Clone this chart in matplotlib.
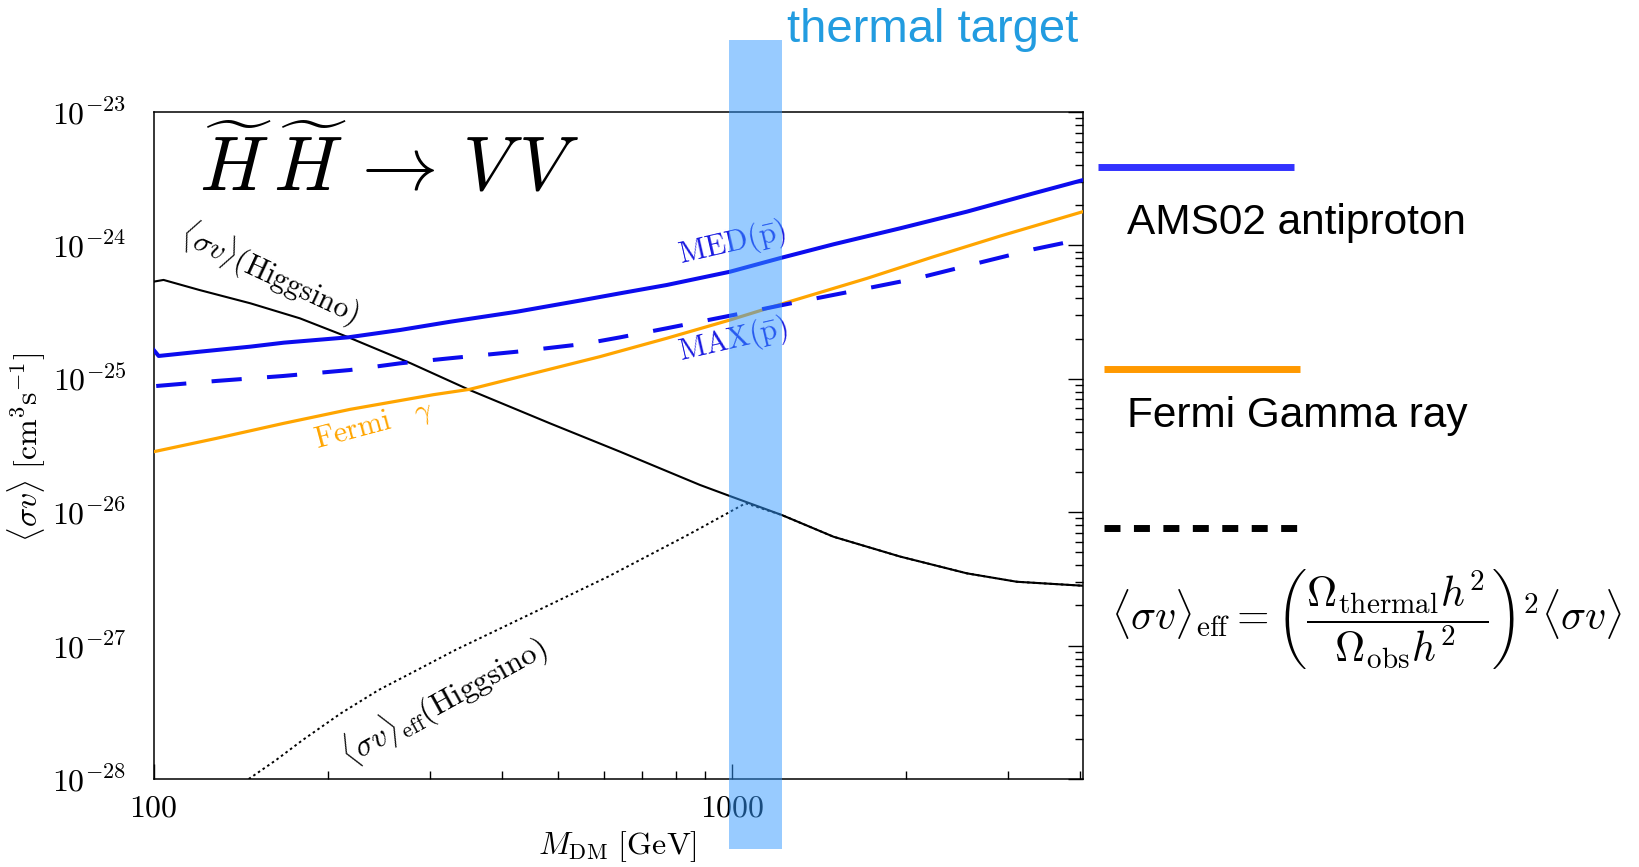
import numpy as np
import matplotlib
matplotlib.use('Agg')
import matplotlib.pyplot as plt
from matplotlib.lines import Line2D
from matplotlib.patches import Rectangle
import matplotlib.transforms as mtransforms
from matplotlib.ticker import FixedLocator, FixedFormatter, LogLocator, NullFormatter

# ---------------- data ----------------
higgsino_M = [100, 104, 120, 147, 179, 217, 278, 352, 485, 641, 881, 993, 1220, 1499, 1955, 2551, 3112, 4050]
higgsino_sv = [5.35e-25, 5.51e-25, 4.63e-25, 3.68e-25, 2.84e-25, 2.05e-25, 1.31e-25, 8.24e-26, 4.63e-26,
               2.84e-26, 1.60e-26, 1.32e-26, 9.53e-27, 6.55e-27, 4.65e-27, 3.48e-27, 3.01e-27, 2.81e-27]

eff_M = [146, 162.8, 181, 210.7, 245, 285.5, 332.5, 451, 611, 828, 881, 1056, 1220, 1499, 1955, 2551, 3112, 4050]
eff_sv = [1.0e-28, 1.387e-28, 1.959e-28, 3.105e-28, 4.65e-28, 6.56e-28, 9.27e-28, 1.746e-27, 3.29e-27,
          6.55e-27, 7.57e-27, 1.167e-26, 9.53e-27, 6.55e-27, 4.65e-27, 3.48e-27, 3.01e-27, 2.81e-27]

med_M = [100, 102, 120, 147, 168, 217, 267, 326, 425, 554, 641, 772, 993, 1220, 1499, 1955, 2551, 3325, 4050]
med_sv = [1.644e-25, 1.483e-25, 1.596e-25, 1.742e-25, 1.866e-25, 2.046e-25, 2.323e-25, 2.679e-25, 3.184e-25,
          3.90e-25, 4.375e-25, 5.05e-25, 6.35e-25, 8.09e-25, 1.019e-24, 1.343e-24, 1.791e-24, 2.455e-24, 3.09e-24]

max_M = [101, 128.5, 167.6, 218.6, 266.7, 325.6, 424.6, 553.6, 641, 772, 993, 1279, 1602, 2089, 2725, 3325, 3848]
max_sv = [8.83e-26, 9.64e-26, 1.050e-25, 1.164e-25, 1.306e-25, 1.426e-25, 1.596e-25, 1.824e-25, 2.046e-25,
          2.393e-25, 2.972e-25, 3.715e-25, 4.50e-25, 5.66e-25, 7.55e-25, 9.35e-25, 1.067e-24]

fermi_M = [100, 128.5, 167.6, 218.6, 304.6, 352, 453.7, 591.6, 772, 993, 1220, 1713, 2233, 2912, 4050]
fermi_sv = [2.84e-26, 3.58e-26, 4.63e-26, 5.90e-26, 7.6e-26, 8.34e-26, 1.099e-25, 1.466e-25, 2.014e-25,
            2.761e-25, 3.64e-25, 5.66e-25, 8.22e-25, 1.175e-24, 1.791e-24]

thermal_band = (990, 1222)

x_ticks = [100, 1000]
x_ticklabels = [r'$100$', r'$1000$']
y_ticks = [1e-28, 1e-27, 1e-26, 1e-25, 1e-24, 1e-23]
y_ticklabels = [r'$10^{-28}$', r'$10^{-27}$', r'$10^{-26}$', r'$10^{-25}$', r'$10^{-24}$', r'$10^{-23}$']

legend_labels = ['AMS02 antiproton', 'Fermi Gamma ray']

# ---------------- figure ----------------
plt.rcParams['mathtext.fontset'] = 'cm'
W, H = 1639, 867
fig = plt.figure(figsize=(W / 100, H / 100), dpi=100)

def fx(px):
    return px / W

def fy(py):
    return 1 - py / H

ax = fig.add_axes([fx(153.7), fy(779), (1083 - 153.7) / W, (779 - 112) / H])
ax.set_xscale('log')
ax.set_yscale('log')
ax.set_xlim(100, 4050)
ax.set_ylim(1e-28, 1e-23)

blue = '#0c0cee'
orange = '#ffa500'

ax.plot(higgsino_M, higgsino_sv, color='black', lw=1.5, zorder=3, solid_joinstyle='round')
ax.plot(eff_M, eff_sv, color='black', lw=1.4, linestyle=(0, (1.3, 1.6)), zorder=3)
ax.plot(med_M, med_sv, color=blue, lw=2.9, zorder=4, solid_joinstyle='round')
ax.plot(max_M, max_sv, color=blue, lw=2.9, zorder=4, dashes=(7.5, 6.3))
ax.plot(fermi_M, fermi_sv, color=orange, lw=2.3, zorder=3, solid_joinstyle='round')

# thermal band (extends outside the axes)
trans = mtransforms.blended_transform_factory(ax.transData, fig.transFigure)
band = Rectangle((thermal_band[0], fy(849)), thermal_band[1] - thermal_band[0], fy(40) - fy(849),
                 transform=trans, facecolor='#3399ff', alpha=0.5, edgecolor='none',
                 clip_on=False, zorder=6)
ax.add_patch(band)
fig.text(fx(786.7), fy(41.7), 'thermal target', fontsize=34, color='#229ce0',
         family='Liberation Sans', ha='left', va='baseline')

# ticks
ax.xaxis.set_major_locator(FixedLocator(x_ticks))
ax.xaxis.set_major_formatter(FixedFormatter(x_ticklabels))
ax.xaxis.set_minor_locator(LogLocator(base=10, subs=np.arange(2, 10), numticks=20))
ax.xaxis.set_minor_formatter(NullFormatter())
ax.yaxis.set_major_locator(FixedLocator(y_ticks))
ax.yaxis.set_major_formatter(FixedFormatter(y_ticklabels))
ax.yaxis.set_minor_locator(LogLocator(base=10, subs=np.arange(2, 10), numticks=20))
ax.yaxis.set_minor_formatter(NullFormatter())
ax.tick_params(which='both', direction='in', top=False, left=False, right=True, bottom=True,
               width=1.0, labelsize=23)
ax.tick_params(which='major', length=11)
ax.tick_params(which='minor', length=6)
ax.tick_params(axis='y', pad=19.5)
ax.tick_params(axis='x', pad=10)
for s in ax.spines.values():
    s.set_linewidth(1.1)

# axis labels
fig.text(fx(617), fy(847), r'$M_{\rm DM}\ [\rm GeV]$', fontsize=23, ha='center', va='center')
fig.text(fx(27), fy(447), r'$\langle\sigma v\rangle\ [\rm cm^3 s^{-1}]$', fontsize=23,
         ha='center', va='center', rotation=90)

# title
fig.text(fx(199), fy(190), r'$\widetilde{H}\,\widetilde{H}\,\rightarrow\,V\,V$', fontsize=55,
         ha='left', va='baseline')

# curve labels
ax.text(158.9, 6.2e-25, r'$\langle\sigma v\rangle(\rm Higgsino)$', fontsize=21.5, rotation=-25,
        rotation_mode='anchor', ha='center', va='center', zorder=5)
ax.text(1002, 1.04e-24, r'$\rm MED(\bar{p})$', fontsize=21.5, rotation=13, color='#1a1ae0',
        rotation_mode='anchor', ha='center', va='center', zorder=5)
ax.text(1004, 1.95e-25, r'$\rm MAX(\bar{p})$', fontsize=21.5, rotation=13, color='#1a1ae0',
        rotation_mode='anchor', ha='center', va='center', zorder=5)
ax.text(240.4, 4.5e-26, r'$\rm Fermi\ \ \ \gamma$', fontsize=21.5, rotation=15, color=orange,
        rotation_mode='anchor', ha='center', va='center', zorder=5)
ax.text(316.6, 3.9e-28, r'$\langle\sigma v\rangle_{\rm eff}(\rm Higgsino)$', fontsize=22.5, rotation=29,
        rotation_mode='anchor', ha='center', va='center', zorder=5)

# right-hand legend
fig.add_artist(Line2D([fx(1098), fx(1294)], [fy(166.5), fy(166.5)], transform=fig.transFigure,
                      color='#3232ff', lw=5, solid_capstyle='butt'))
fig.text(fx(1127), fy(234), legend_labels[0], fontsize=30.5, family='Liberation Sans',
         ha='left', va='baseline')
fig.add_artist(Line2D([fx(1104), fx(1300)], [fy(369), fy(369)], transform=fig.transFigure,
                      color='#ff9900', lw=5, solid_capstyle='butt'))
fig.text(fx(1127), fy(427), legend_labels[1], fontsize=30.5, family='Liberation Sans',
         ha='left', va='baseline')
fig.add_artist(Line2D([fx(1104), fx(1297)], [fy(528), fy(528)], transform=fig.transFigure,
                      color='black', lw=5, dashes=(2.3, 1.94), dash_capstyle='butt'))
fig.text(fx(1111), fy(619),
         r'$\langle\sigma v\rangle_{\rm eff}=\left(\dfrac{\Omega_{\rm thermal}h^2}{\Omega_{\rm obs}h^2}\right)^2\langle\sigma v\rangle$',
         fontsize=30, ha='left', va='center')

fig.savefig('out.png', dpi=100)
